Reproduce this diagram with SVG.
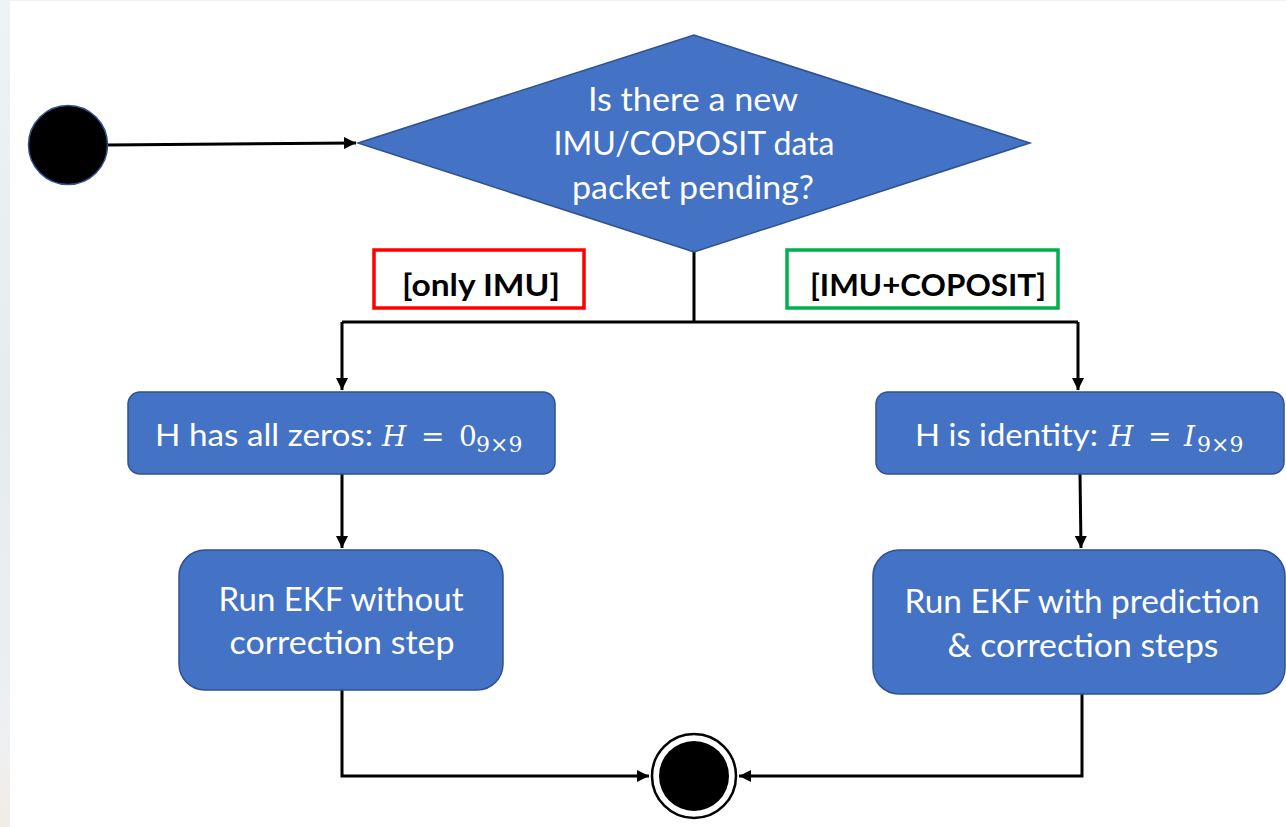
<svg xmlns="http://www.w3.org/2000/svg" width="1286" height="827" viewBox="0 0 1286 827">
  <defs>
    <linearGradient id="edge" x1="0" y1="0" x2="0" y2="1">
      <stop offset="0" stop-color="#eef3f7"/>
      <stop offset="0.5" stop-color="#e6ebee"/>
      <stop offset="0.9" stop-color="#eef0f2"/>
      <stop offset="1" stop-color="#f3ece6"/>
    </linearGradient>
    <marker id="arrow" viewBox="0 0 10 10" refX="10" refY="5" markerWidth="4" markerHeight="4" markerUnits="strokeWidth" orient="auto">
      <path d="M0,0 L10,5 L0,10 z" fill="#000"/>
    </marker>
    <style>
      .shape { fill: #4472c4; stroke: #2f528f; stroke-width: 1.5; }
      .txt { font-family: Lato, "Liberation Sans", sans-serif; fill: #fff; }
      .mid { text-anchor: middle; }
      .math { font-family: "DejaVu Serif", "Liberation Serif", serif; fill: #fff; }
      .guard { font-family: Lato, "Liberation Sans", sans-serif; font-weight: bold; font-size: 31px; fill: #000; text-anchor: middle; }
      .conn { fill: none; stroke: #000; stroke-width: 3; }
    </style>
  </defs>

  <rect x="0" y="0" width="1286" height="827" fill="#fff"/>
  <rect x="0" y="0" width="10" height="827" fill="url(#edge)"/>
  <rect x="0" y="0" width="1286" height="1" fill="#eef2f6"/>

  <g id="connectors">
    <path class="conn" d="M108,145 L356,143" marker-end="url(#arrow)"/>
    <path class="conn" d="M694,252 L694,322"/>
    <path class="conn" d="M342,322 L1078,322"/>
    <path class="conn" d="M342,322 L342,390" marker-end="url(#arrow)"/>
    <path class="conn" d="M1078,322 L1078,390" marker-end="url(#arrow)"/>
    <path class="conn" d="M342,474 L342,548" marker-end="url(#arrow)"/>
    <path class="conn" d="M1080,474 L1081,548" marker-end="url(#arrow)"/>
    <path class="conn" d="M342,690 L342,776 L649,776" marker-end="url(#arrow)"/>
    <path class="conn" d="M1082,694 L1082,776 L739,776" marker-end="url(#arrow)"/>
  </g>

  <g id="start">
    <circle cx="68" cy="145" r="39.5" fill="#000" stroke="#2f528f" stroke-width="1.5"/>
  </g>

  <g id="decision">
    <polygon class="shape" points="358,143 694,35 1030,143 694,252"/>
    <text class="txt mid" font-size="32" x="693" y="111" textLength="210" lengthAdjust="spacingAndGlyphs">Is there a new</text>
    <text class="txt mid" font-size="32" x="694" y="155" textLength="281" lengthAdjust="spacingAndGlyphs">IMU/COPOSIT data</text>
    <text class="txt mid" font-size="32" x="693" y="199" textLength="242" lengthAdjust="spacingAndGlyphs">packet pending?</text>
  </g>

  <g id="guard-only-imu">
    <rect x="374" y="250" width="210" height="58" fill="none" stroke="#ff0000" stroke-width="3.5"/>
    <text class="guard" x="481" y="296" textLength="158" lengthAdjust="spacingAndGlyphs">[only IMU]</text>
  </g>

  <g id="guard-imu-coposit">
    <rect x="787" y="250" width="271" height="58" fill="none" stroke="#00b050" stroke-width="3.5"/>
    <text class="guard" x="928" y="296" textLength="236" lengthAdjust="spacingAndGlyphs">[IMU+COPOSIT]</text>
  </g>

  <g id="h-zeros">
    <rect class="shape" x="128" y="392" width="427" height="82" rx="12"/>
    <text class="txt" font-size="30" x="155" y="446" textLength="218" lengthAdjust="spacingAndGlyphs">H has all zeros:</text>
    <text class="math" font-size="28" font-style="italic" x="382" y="446">H</text>
    <text class="math" font-size="28" x="421" y="446">=</text>
    <text class="math" font-size="28" x="459" y="446">0</text>
    <text class="math" font-size="22" x="476" y="452">9×9</text>
  </g>

  <g id="h-identity">
    <rect class="shape" x="876" y="392" width="408" height="82" rx="12"/>
    <text class="txt" font-size="30" x="915" y="446" textLength="183" lengthAdjust="spacingAndGlyphs">H is identity:</text>
    <text class="math" font-size="28" font-style="italic" x="1109" y="446">H</text>
    <text class="math" font-size="28" x="1148" y="446">=</text>
    <text class="math" font-size="28" font-style="italic" x="1184" y="446">I</text>
    <text class="math" font-size="22" x="1197" y="452">9×9</text>
  </g>

  <g id="ekf-predict-only">
    <rect class="shape" x="179" y="550" width="324" height="140" rx="26"/>
    <text class="txt mid" font-size="32" x="341" y="611" textLength="245" lengthAdjust="spacingAndGlyphs">Run EKF without</text>
    <text class="txt mid" font-size="32" x="342" y="654" textLength="225" lengthAdjust="spacingAndGlyphs">correction step</text>
  </g>

  <g id="ekf-full">
    <rect class="shape" x="873" y="550" width="412" height="144" rx="26"/>
    <text class="txt mid" font-size="32" x="1082" y="613" textLength="355" lengthAdjust="spacingAndGlyphs">Run EKF with prediction</text>
    <text class="txt mid" font-size="32" x="1083" y="657" textLength="271" lengthAdjust="spacingAndGlyphs">&amp; correction steps</text>
  </g>

  <g id="end">
    <circle cx="694" cy="776" r="42" fill="#fff" stroke="#000" stroke-width="2.5"/>
    <circle cx="694" cy="776" r="35" fill="#000"/>
  </g>
</svg>
